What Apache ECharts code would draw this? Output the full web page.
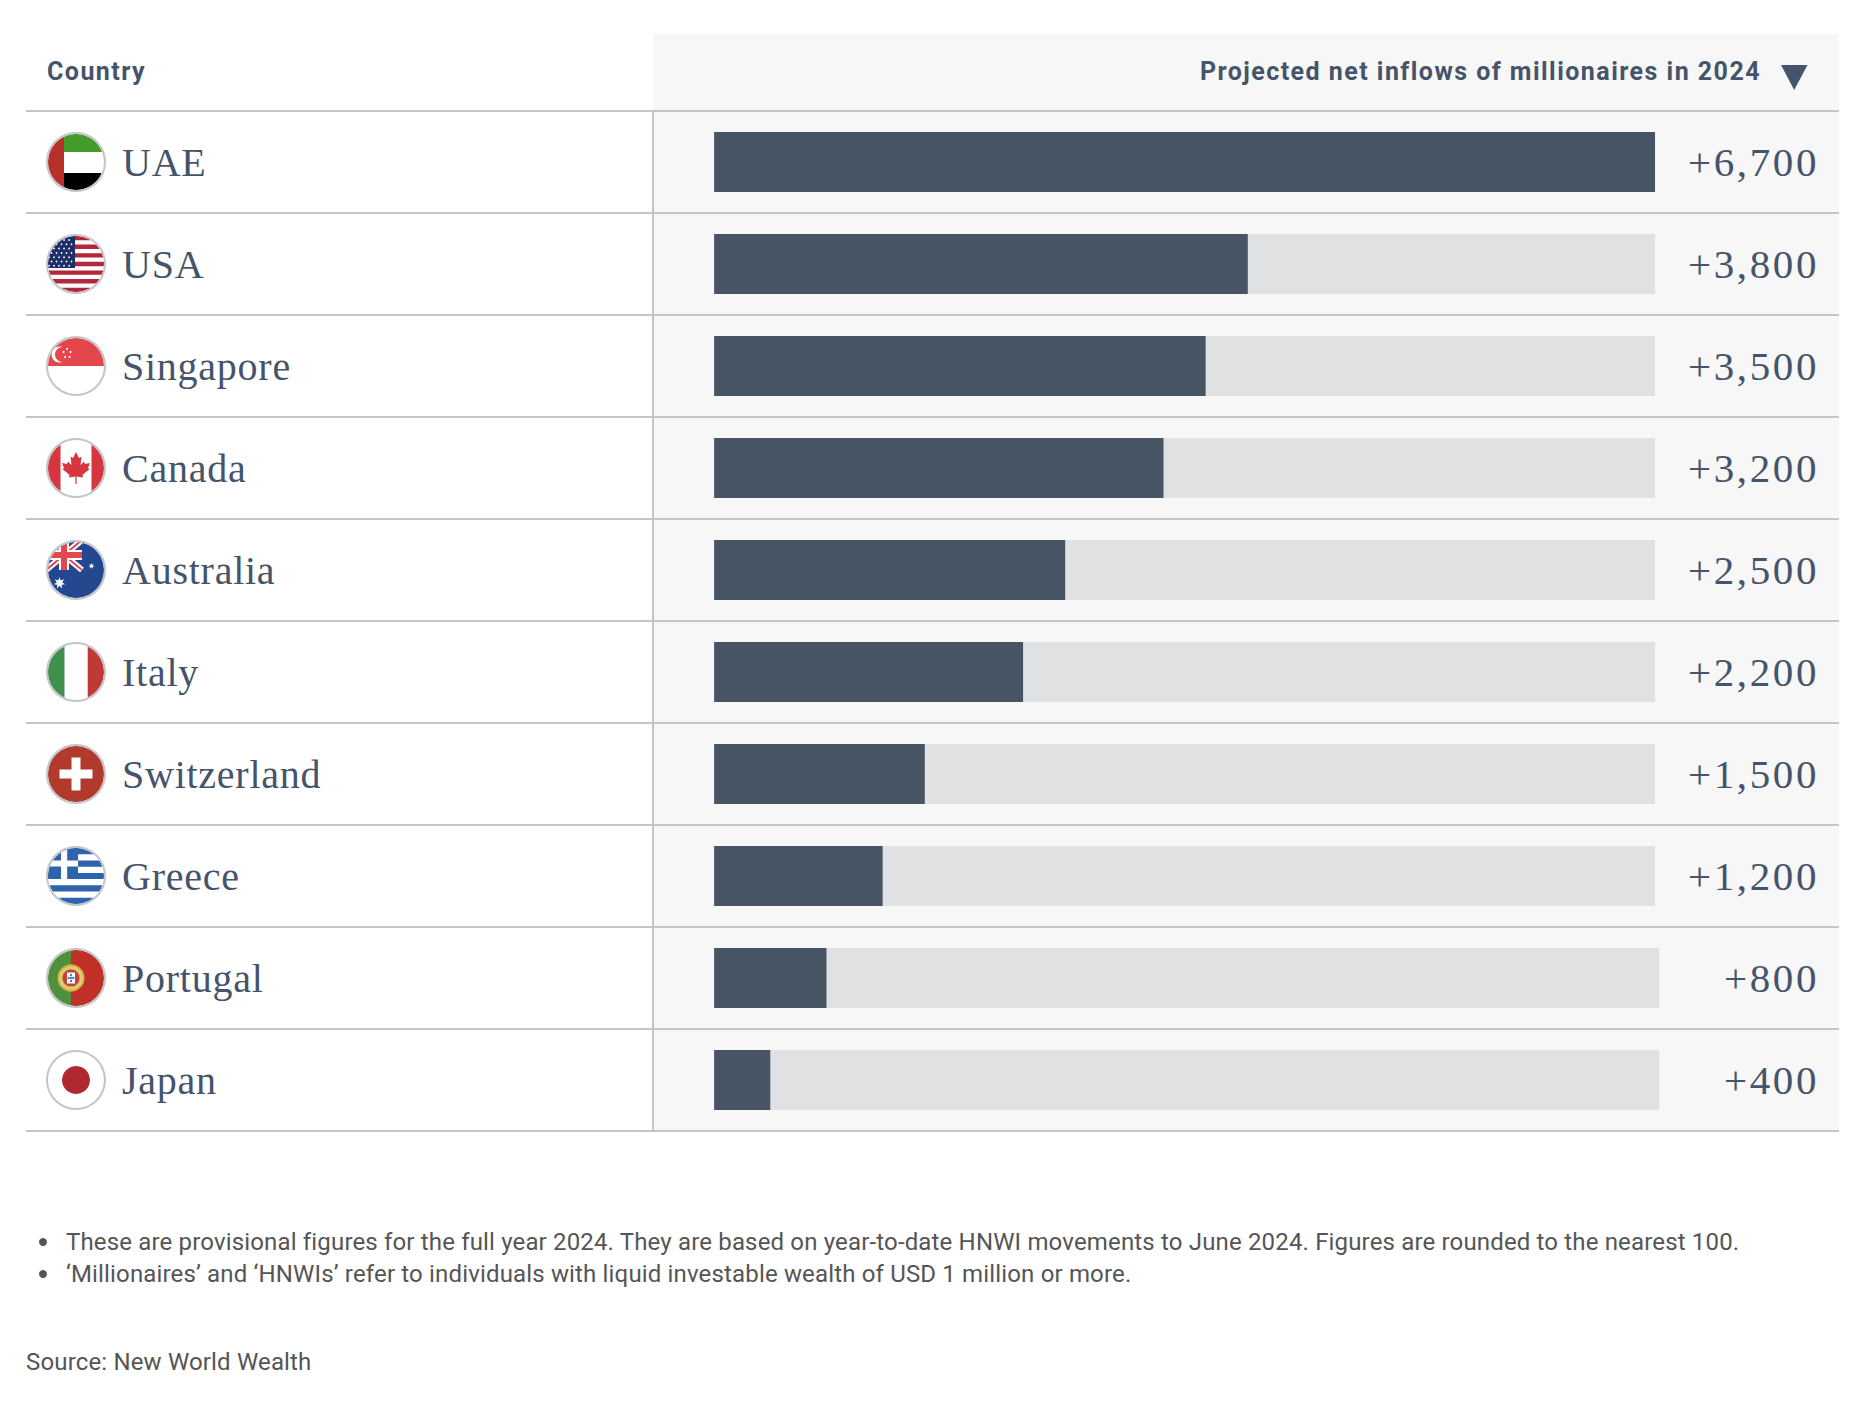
<!DOCTYPE html>
<html><head><meta charset="utf-8">
<style>
html,body{margin:0;padding:0;background:#fff}
#c{width:1866px;height:1404px}
svg text[style*="40px"]{letter-spacing:.75px}
svg text[style*="41px"]{letter-spacing:2.6px}
svg text[style*="24px"]{letter-spacing:.16px}
svg text[style*="bold"]{letter-spacing:1.46px}
</style>
<script src="https://cdn.jsdelivr.net/npm/echarts@6/dist/echarts.min.js"></script>
</head><body><div id="c"></div>
<script>
const countries = ["UAE","USA","Singapore","Canada","Australia","Italy","Switzerland","Greece","Portugal","Japan"];
const inflows = [6700,3800,3500,3200,2500,2200,1500,1200,800,400];
const trackEnds = [6700,6700,6700,6700,6700,6700,6700,6700,6730,6730];
const headerCountry = "Country";
const headerValue = "Projected net inflows of millionaires in 2024";
const notes = [
 "These are provisional figures for the full year 2024. They are based on year-to-date HNWI movements to June 2024. Figures are rounded to the nearest 100.",
 "‘Millionaires’ and ‘HNWIs’ refer to individuals with liquid investable wealth of USD 1 million or more."
];
const source = "Source: New World Wealth";

const INK="#45546a", BAR="#465464", TRACK="#e0e1e3", PANEL="#f7f7f7", RULE="#c2c6ca", NOTE="#555555";
const R=28;
const rect=(x,y,w,h,fill)=>({type:'rect',shape:{x,y,width:w,height:h},style:{fill}});
const circ=(cx,cy,r,fill,extra)=>({type:'circle',shape:{cx,cy,r},style:Object.assign({fill},extra||{})});
const poly=(points,fill)=>({type:'polygon',shape:{points},style:{fill}});
const line=(x1,y1,x2,y2,stroke,w)=>({type:'line',shape:{x1,y1,x2,y2},style:{stroke,lineWidth:w,fill:null}});
function star(cx,cy,r,n,fill){const p=[];for(let i=0;i<n*2;i++){const a=-Math.PI/2+i*Math.PI/n,q=i%2?r*.45:r;p.push([cx+q*Math.cos(a),cy+q*Math.sin(a)]);}return poly(p,fill);}
const flags={
 UAE(){return [rect(-12,-30,42,20,"#469c2a"),rect(-12,-10,42,21,"#fff"),rect(-12,11,42,19,"#000"),rect(-30,-30,18,60,"#b9302b")];},
 USA(){const o=[rect(-30,-30,60,60,"#fff")];const h=56/13;for(let i=0;i<13;i+=2)o.push(rect(-30,-28+i*h,60,h,"#b2283a"));
   o.push(rect(-30,-30,29,34,"#1f2d6b"));
   for(let r=0;r<7;r++)for(let c=0;c<6;c++){const x=-27+c*5+(r%2?2.5:0),y=-24+r*4.3;if(x<-2)o.push(circ(x,y,.85,"#fff"));}
   return o;},
 Singapore(){const o=[rect(-30,-30,60,30,"#e3474c"),rect(-30,0,60,30,"#fff"),circ(-16.5,-11.5,8,"#fff"),circ(-13.5,-11.5,7.5,"#e3474c")];
   [[-9,-17],[-5.5,-14],[-6.5,-9],[-11,-9],[-12.5,-14]].forEach(p=>o.push(circ(p[0],p[1],1,"#fff")));return o;},
 Canada(){return [rect(-30,-30,60,60,"#fff"),rect(-30,-30,14.5,60,"#d6373f"),rect(15.5,-30,15,60,"#d6373f"),
   poly([[0,-16],[3,-10],[5.5,-11.5],[4.5,-3],[8,-6.5],[9,-4],[14,-5],[12,0],[13.5,1],[6.5,7],[7,9.5],[0.6,8.5],[0.6,16],[-0.6,16],[-0.6,8.5],[-7,9.5],[-6.5,7],[-13.5,1],[-12,0],[-14,-5],[-9,-4],[-8,-6.5],[-4.5,-3],[-5.5,-11.5],[-3,-10]],"#d6373f")];},
 Australia(){const b="#24488f";return [rect(-30,-30,60,60,b),rect(-30,-30,36,30,b),
   line(-30,-30,6,0,"#fff",6),line(-30,0,6,-30,"#fff",6),line(-30,-30,6,0,"#e2484d",2),line(-30,0,6,-30,"#e2484d",2),
   rect(-30,-20,36,10,"#fff"),rect(-17,-30,10,30,"#fff"),rect(-30,-18,36,6,"#e2484d"),rect(-15,-30,6,30,"#e2484d"),
   star(-16.5,13,6,7,"#fff"),star(15.5,-4,3,7,"#fff")];},
 Italy(){return [rect(-30,-30,18.7,60,"#3f8f4f"),rect(-11.3,-30,23,60,"#fff"),rect(11.7,-30,19,60,"#c03a35")];},
 Switzerland(){return [rect(-30,-30,60,60,"#b23a2d"),rect(-16.5,-4.5,33,9,"#fff"),rect(-4.5,-16.5,9,33,"#fff")];},
 Greece(){const c="#2e63ad",o=[rect(-30,-30,60,60,"#fff")],h=56/9;for(let i=0;i<9;i+=2)o.push(rect(-30,-28+i*h,60,h,c));
   o.push(rect(-30,-30,32,33,c),rect(-30,-15.6,32,6.2,"#fff"),rect(-15,-30,6.2,33,"#fff"));return o;},
 Portugal(){return [rect(-30,-30,25,60,"#4f8f3d"),rect(-5,-30,35,60,"#c03028"),
   circ(-5,0,12.5,"#d8cf8a",{stroke:"#dcb53c",lineWidth:2}),circ(-5,0,9,"#c8403a",{stroke:"#e0c45a",lineWidth:1}),
   rect(-9,-5.5,8,11,"#fff"),circ(-5,-3,1.2,"#3a78c0"),circ(-7.3,0,1.2,"#3a78c0"),circ(-5,0,1.2,"#3a78c0"),circ(-2.7,0,1.2,"#3a78c0"),circ(-5,3,1.2,"#3a78c0")];},
 Japan(){return [rect(-30,-30,60,60,"#fff"),circ(0,0,14,"#ae2a30")];}
};
function renderFlag(params,api){
  const i=api.value(0), cy=api.coord([0,i])[1], cx=params.coordSys.x+50;
  return {type:'group',x:cx,y:cy,silent:true,children:[
    {type:'group',clipPath:{type:'circle',shape:{cx:0,cy:0,r:R}},children:flags[countries[i]]()},
    circ(0,0,R+1,'none',{stroke:"#c4c7ca",lineWidth:2})
  ]};
}
const chart=echarts.init(document.getElementById('c'),null,{renderer:'svg',width:1866,height:1404});
const sans="Roboto", serif="'Liberation Serif'";
const fmt=v=>'+'+v.toLocaleString('en-US');
chart.setOption({
 animation:false,backgroundColor:'#ffffff',
 grid:{left:26,top:111,width:1813,height:1020,containLabel:false},
 xAxis:{type:'value',min:-4900,max:8010,show:false},
 yAxis:[
  {type:'category',inverse:true,data:countries,position:'left',
   axisLine:{show:false},axisTick:{show:false},
   splitLine:{show:true,interval:0,lineStyle:{color:RULE,width:2}},
   axisLabel:{inside:true,margin:96,align:'left',interval:0,fontFamily:serif,fontSize:40,color:INK}},
  {type:'category',inverse:true,data:inflows.map(fmt),position:'right',
   axisLine:{show:false},axisTick:{show:false},splitLine:{show:false},
   axisLabel:{inside:true,margin:20,align:'right',interval:0,fontFamily:serif,fontSize:41,color:INK}}
 ],
 series:[
  {type:'bar',name:'Track',data:trackEnds,barWidth:60,barGap:'-100%',itemStyle:{color:TRACK},silent:true},
  {type:'bar',name:'Projected net inflows of millionaires in 2024',data:inflows,barWidth:60,barGap:'-100%',itemStyle:{color:BAR},silent:true},
  {type:'custom',name:'Flags',renderItem:renderFlag,data:countries.map((c,i)=>[i]),encode:{y:0},clip:false,silent:true,z:5,tooltip:{show:false}}
 ],
 graphic:[
  {type:'rect',z:-10,shape:{x:653,y:34,width:1186,height:1097},style:{fill:PANEL}},
  {type:'line',z:3,shape:{x1:653,y1:111,x2:653,y2:1131},style:{stroke:RULE,lineWidth:2}},
  {type:'polygon',z:3,shape:{points:[[1781,65],[1807.5,65],[1794.2,90]]},style:{fill:INK}},
  {type:'text',z:3,x:47,y:71,style:{text:headerCountry,fontFamily:sans,fontSize:25,fontWeight:'bold',fill:INK,textAlign:'left',textVerticalAlign:'middle'}},
  {type:'text',z:3,x:1761,y:71,style:{text:headerValue,fontFamily:sans,fontSize:25,fontWeight:'bold',fill:INK,textAlign:'right',textVerticalAlign:'middle'}},
  {type:'circle',z:3,shape:{cx:43,cy:1242,r:4},style:{fill:NOTE}},
  {type:'circle',z:3,shape:{cx:43,cy:1274,r:4},style:{fill:NOTE}},
  {type:'text',z:3,x:66,y:1242,style:{text:notes[0],fontFamily:sans,fontSize:24,fill:NOTE,textAlign:'left',textVerticalAlign:'middle'}},
  {type:'text',z:3,x:66,y:1274,style:{text:notes[1],fontFamily:sans,fontSize:24,fill:NOTE,textAlign:'left',textVerticalAlign:'middle'}},
  {type:'text',z:3,x:26,y:1362,style:{text:source,fontFamily:sans,fontSize:24,fill:NOTE,textAlign:'left',textVerticalAlign:'middle'}}
 ]
});
</script></body></html>
